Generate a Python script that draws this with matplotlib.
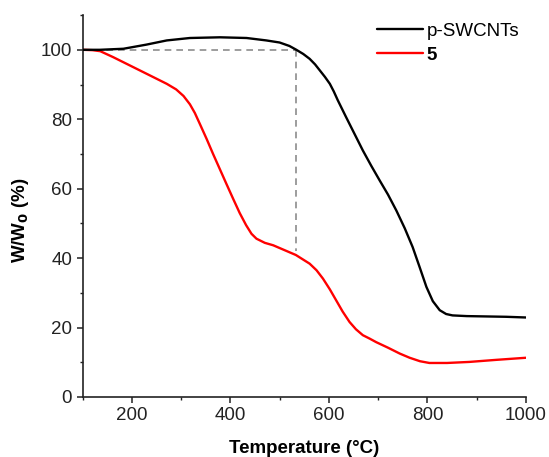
import matplotlib
matplotlib.use("Agg")
import matplotlib.pyplot as plt
from matplotlib.ticker import MultipleLocator

plt.rcParams['font.family'] = ['Liberation Sans', 'DejaVu Sans']

# TGA curves: temperature (°C) vs. residual weight (%)
temp_swcnt = [100, 135, 183, 230, 271, 318, 379, 433, 473, 500, 520, 534, 548, 561,
              572, 582, 592, 602, 610, 618, 635, 652, 669, 686, 703, 720, 737, 754,
              770, 784, 798, 811, 825, 838, 851, 880, 920, 960, 1000]
w_swcnt = [100, 100, 100.3, 101.5, 102.7, 103.4, 103.6, 103.4, 102.7, 102.1, 101.1,
           100, 98.8, 97.4, 95.8, 94, 92.2, 90.2, 88, 85.5, 80.6, 75.8, 71, 66.6,
           62.4, 58.3, 53.7, 48.6, 43.2, 37.5, 31.7, 27.6, 25, 23.9, 23.5, 23.3, 23.2,
           23.1, 22.9]

temp_5 = [100, 120, 136, 162, 196, 230, 271, 290, 305, 318, 328, 338, 352, 365, 392,
          406, 419, 432, 443, 453, 470, 487, 510, 533, 561, 575, 588, 602, 615, 628,
          642, 655, 669, 683, 696, 720, 744, 764, 785, 804, 840, 885, 940, 1000]
w_5 = [100, 99.9, 99.6, 97.9, 95.5, 93.1, 90.2, 88.6, 86.7, 84.3, 81.8, 78.7, 74.3,
       70, 61.4, 57, 53, 49.5, 47, 45.6, 44.4, 43.7, 42.3, 40.9, 38.4, 36.5, 34.1,
       31, 27.8, 24.6, 21.6, 19.5, 17.8, 16.8, 15.8, 14.2, 12.5, 11.3, 10.3, 9.8,
       9.8, 10.1, 10.7, 11.3]

# Onset marker: temperature where p-SWCNTs drop back to 100 %
onset_temp = 533
onset_w = 100
onset_w_5 = 42

labels = ["p-SWCNTs", "5"]

fig = plt.figure(figsize=(5.49, 4.57), dpi=100)
ax = fig.add_axes([0.1503, 0.1313, 0.8077, 0.8357])

dash_kw = dict(color='#8c8c8c', lw=1.2, ls=(0, (4, 3)), zorder=1)
ax.plot([temp_swcnt[0], onset_temp], [onset_w, onset_w], **dash_kw)
ax.plot([onset_temp, onset_temp], [onset_w, onset_w_5], **dash_kw)

ax.plot(temp_swcnt, w_swcnt, color='black', lw=1.7, label=labels[0], zorder=3,
        solid_joinstyle='round', solid_capstyle='round')
ax.plot(temp_5, w_5, color='#ff0000', lw=1.7, label=labels[1], zorder=2,
        solid_joinstyle='round', solid_capstyle='round')

ax.set_xlim(100, 1000)
ax.set_ylim(0, 110)
ax.xaxis.set_major_locator(MultipleLocator(200))
ax.xaxis.set_minor_locator(MultipleLocator(100))
ax.yaxis.set_major_locator(MultipleLocator(20))
ax.yaxis.set_minor_locator(MultipleLocator(10))
ax.set_xticks([200, 400, 600, 800, 1000])

for side in ['top', 'right']:
    ax.spines[side].set_visible(False)
for side in ['left', 'bottom']:
    ax.spines[side].set_linewidth(1.2)
    ax.spines[side].set_color('#222222')

ax.tick_params(which='major', direction='out', length=4.5, width=1.1,
               labelsize=13.5, colors='#222222', pad=3)
ax.tick_params(which='minor', direction='out', length=2.5, width=1.0, colors='#222222')

ax.set_xlabel("Temperature (°C)", fontsize=13.5, fontweight='bold', labelpad=11)
ax.set_ylabel("W/W$_\\mathbf{0}$ (%)", fontsize=13.5, fontweight='bold')
ax.yaxis.set_label_coords(-0.116, 0.463)

leg = ax.legend(loc='upper right', bbox_to_anchor=(1.01, 1.01), frameon=False,
                fontsize=13.5, handlelength=2.45, handletextpad=0.18,
                labelspacing=0.36, borderaxespad=0.2)
leg.get_texts()[1].set_fontweight('bold')

fig.savefig("out.png", dpi=100)
